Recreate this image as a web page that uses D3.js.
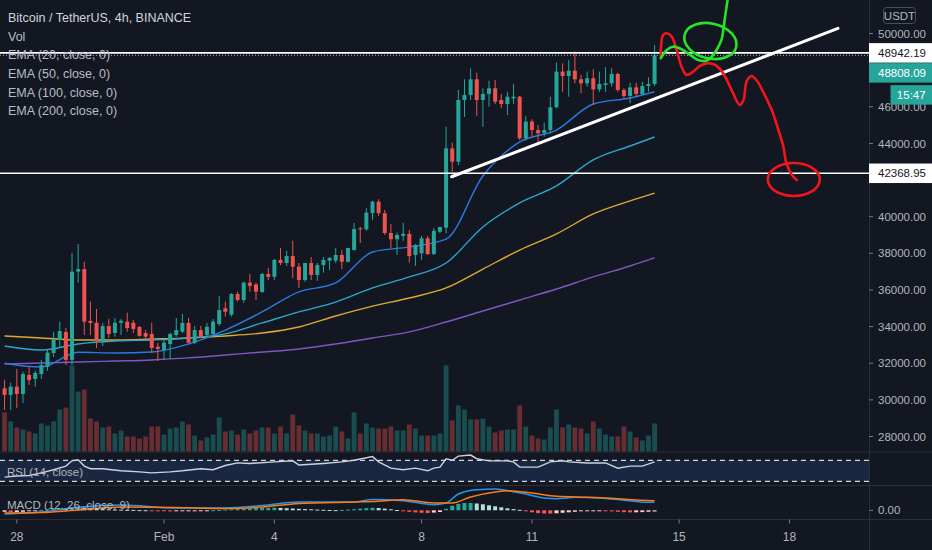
<!DOCTYPE html>
<html>
<head>
<meta charset="utf-8">
<script src="https://cdn.jsdelivr.net/npm/d3@7"></script>
<style>
html,body{margin:0;padding:0;background:#131722;}
svg{display:block;font-family:"Liberation Sans",Arial,sans-serif;}
</style>
</head>
<body>
<svg id="chart" width="932" height="550"></svg>
<script>
// ---- data (BTCUSDT 4h, first bar 27 Jan 16:00 UTC) ----
const barStart = '2021-01-27T16:00:00Z';

const opens = [30630,30270,30720,30320,31360,31140,31410,31810,32560,33270,
33700,32180,37000,37140,34310,34210,33270,34030,33650,34210,
34270,34210,33980,33650,33600,32900,32720,33050,33540,33720,
34200,33120,33810,33540,33600,34140,35000,34650,35780,35450,
36400,36300,35890,36870,36720,37640,37470,37850,37270,36540,
37470,36820,37360,37600,37600,37910,37540,38180,39370,39310,
40200,40820,40190,39110,38770,38950,39060,37910,38000,38820,
37960,39180,39400,43730,43000,46370,46640,47500,46370,46700,
47010,46370,46150,46460,46550,44280,45190,44730,44550,44730,
45970,47920,47680,47970,47500,47280,47560,46950,47190,47280,
47790,46920,46590,47060,46700,47130,47240];

const highs = [31090,30940,31690,31540,31810,31590,32180,32720,33720,34270,
33920,38020,38510,37540,35360,34960,34200,34420,34470,34420,
34760,34360,34030,33810,34210,33110,33270,33670,34470,34690,
34470,34030,34030,34200,34420,35670,35360,35830,35910,36450,
36870,36400,36930,37200,37690,38290,38140,38690,37470,37480,
37800,37470,37800,37800,38290,38180,38300,39660,39450,40470,
40870,40950,40370,39600,39130,39670,39270,38510,38950,38950,
39380,39440,44910,44040,46920,47500,48100,47860,47010,47420,
47460,46700,46820,47240,46590,45500,45320,45010,45130,46550,
48410,48370,48550,49010,47740,47920,48050,47920,48160,48100,
47860,47010,47310,47310,47370,47610,49370];

const lows = [29450,29450,29560,29830,30810,30720,31140,31590,32340,32900,
31900,31900,36400,33540,33540,32830,32940,33380,33450,33540,
33720,33650,33450,33270,32560,32120,32180,32230,33450,33650,
33100,33050,33380,33450,33490,34030,34540,34540,35360,35300,
35910,35450,35830,36540,36540,37360,37310,36650,36110,36450,
36540,36500,36940,37090,37470,37140,37500,38140,38560,39230,
39820,40040,39000,38290,37910,38690,37490,37310,37640,37910,
37910,39100,39090,42460,42820,45440,46370,45500,44910,46000,
46150,45920,45550,46150,44190,44150,44370,44090,44370,44550,
45920,46820,46550,47280,46740,47100,46100,46820,46820,47100,
46820,46460,46190,46590,46640,46820,47130];

const closes = [30270,30720,30320,31410,31090,31470,31900,32580,33320,33760,
32180,37000,37140,34270,34200,33270,34030,33600,34210,34320,
33920,33870,33490,33450,32830,32780,33120,33600,33810,34200,
33120,33810,33450,33990,34270,34900,34810,35780,35450,36400,
36220,35910,36870,36720,37640,37470,37850,37270,36540,37470,
36820,37360,37640,37750,37910,37540,38290,39330,39310,40220,
40820,40190,39110,38770,39000,39060,37850,38450,38820,37960,
39230,39440,43730,43000,46370,46640,47500,46370,46700,47010,
46280,46150,46550,46550,44280,45190,44730,44550,44730,45970,
47920,47680,47970,47500,47280,47560,46950,47240,47280,47790,
46920,46590,47060,46700,47130,47240,48808.09];

const volumes = [9750,7500,6000,5500,5000,4500,7000,6500,7500,10500,
11000,21500,15000,15500,8250,7500,6000,6250,4500,5250,
3750,3750,3250,3750,6250,6250,4250,5750,6000,7500,
6750,4000,2750,3500,4250,8500,5000,5250,4250,5500,
4500,5250,6000,6000,4500,6250,4500,9250,6500,5250,
4500,4500,3750,4000,6250,5000,3250,9750,4500,7000,
6000,5750,5750,6250,5250,5250,6750,5750,4000,4000,
4000,4500,21500,7750,11500,10500,8000,8000,8250,6250,
4750,5250,5500,5500,11500,6250,4000,3250,3000,6000,
10500,6000,6750,6000,5750,4500,7500,5750,4250,3750,
3750,6250,5000,3500,2750,4000,7000];

// moving averages, read once a day (bar index)
const emaIdx = [0,6,12,18,24,30,36,42,48,54,60,66,72,78,84,90,96,102,106];
const ema20  = [32000,31790,32600,32560,32610,33050,33810,34800,35890,36380,38070,38350,38780,42220,44080,44730,46150,46480,46820];
const ema50  = [32940,32720,33050,33210,33270,33380,33600,34200,34800,35340,36110,36710,37470,39440,40750,41680,43100,43860,44350];
const ema100 = [33490,33380,33270,33270,33320,33380,33490,33650,33980,34580,35120,35560,36110,37140,38180,39060,40150,40860,41290];
const ema200 = [31960,32010,32070,32120,32180,32290,32450,32610,32780,33050,33380,33710,34250,34850,35450,36050,36710,37310,37750];

// RSI (14)
const rsiIdx = [0,2,4,6,8,10,11,12,13,14,16,19,22,24,27,29,32,34,36,38,40,44,47,48,52,55,57,60,61,63,65,67,69,70,71,72,73,74,76,77,79,82,83,84,87,89,91,92,95,98,100,102,104,106];
const rsiVal = [38,40,41,46,52,59,69,71,59,54,54,50,48,46,48,50,54,52,60,65,64,67,69,61,64,67,70,77,67,55,52,55,50,55,57,73,70,78,80,73,69,69,67,57,57,67,69,67,65,65,55,59,59,67];

// MACD (12, 26, 9)
const macdIdx = [0,6,12,19,28,36,42,48,57,60,65,70,72,74,77,80,82,85,88,90,93,97,101,105,106];
const macdVal = [-370,-170,300,530,230,230,480,830,830,1080,960,560,730,1630,2060,2130,1960,1630,1230,1160,1300,1230,1000,800,830];
const sigIdx = [0,6,12,19,28,36,42,48,57,60,65,70,73,76,80,82,86,90,95,100,104,106];
const sigVal = [-270,-220,30,330,280,180,330,680,830,880,1060,730,730,1330,1830,1960,1730,1400,1300,1160,1000,960];
const macdHist = [-150,-200,-180,-150,-100,-50,50,100,150,180,150,
300,350,280,200,150,120,100,80,60,50,40,20,10,
-40,-80,-100,-110,-100,-90,-70,-50,-40,-20,10,40,70,100,
140,180,200,220,240,250,260,240,210,180,150,120,
100,70,50,30,20,40,70,110,170,220,250,230,170,100,
30,-60,-150,-210,-250,-270,-230,-170,
150,450,650,730,730,680,600,500,400,300,200,120,50,
-80,-200,-280,-320,-330,-300,-250,-200,-150,-100,-60,-40,-30,-70,-110,-150,-190,-210,-200,-180,-150,-120];

// axes
const timeTicks  = ['2021-01-28','2021-02-01','2021-02-04','2021-02-08','2021-02-11','2021-02-15','2021-02-18'];
const timeLabels = ['28','Feb','4','8','11','15','18'];
const priceTicks = [28000,30000,32000,34000,36000,38000,40000,44000,46000,50000];

// drawings
const levels = [48942.19, 42368.95];
const lastPrice = 48808.09;
const countdown = '15:47';
const trendLine = [[72.9,42180],[135.9,50280]];
const redPath = [[107.0,48770],[107.4,49920],[108.0,50010],[108.8,49830],[109.6,49100],[110.4,48190],[111.2,47740],[112.3,47920],[113.4,48230],[114.5,48370],[115.9,48280],[117.0,47920],[117.8,47460],[118.8,46740],[119.9,46100],[120.5,46370],[121.0,47370],[121.8,47680],[122.6,47460],[123.7,46820],[125.1,45820],[126.2,44730],[127.0,43820],[127.5,42910],[128.4,42280],[129.2,42000]];
const redCircle = {idx:128.7, price:42030, rIdx:4.24, rPrice:900};
const greenPath = [[107.0,48650],[108.0,49100],[109.0,49280],[110.4,49140],[111.8,48830],[113.1,48550],[114.5,48520],[115.3,48730],[116.1,49100],[116.9,49650],[117.2,50190],[117.5,50920],[117.9,51830]];
const greenLoop = {idx:115.1, price:49590, rIdx:4.32, rPrice:955, angle:13};

const legend = ['Bitcoin / TetherUS, 4h, BINANCE','Vol','EMA (20, close, 0)','EMA (50, close, 0)','EMA (100, close, 0)','EMA (200, close, 0)'];

// ---- layout ----
const svg = d3.select('svg');
const width = +svg.attr('width');
const height = +svg.attr('height');
const axisX = 869;
const mainBottom = 452, rsiTop = 452, rsiBottom = 485.5, macdTop = 485.5, macdBottom = 519.5;

const UP = '#26a69a', DOWN = '#ef5350';
const hour4 = 4*3600e3;
const t0 = Date.parse(barStart);

const x = d3.scaleLinear().domain([0,128]).range([4.56,789.5]);
const y = d3.scaleLinear().domain([28000,50000]).range([436.5,33.5]);
const yVol = d3.scaleLinear().domain([0,d3.max(volumes)]).range([451.5,365.5]);
const yRsi = d3.scaleLinear().domain([30,70]).range([481.3,460.3]);
const yMacd = d3.scaleLinear().domain([-770,2430]).range([518,486]);

const bars = opens.map((o,i)=>({i, o, h:highs[i], l:lows[i], c:closes[i], v:volumes[i]}));

svg.append('rect').attr('width',width).attr('height',height).attr('fill','#131722');

const defs = svg.append('defs');
defs.append('clipPath').attr('id','clipMain').append('rect').attr('x',0).attr('y',0).attr('width',axisX).attr('height',mainBottom);
defs.append('clipPath').attr('id','clipRsi').append('rect').attr('x',0).attr('y',rsiTop).attr('width',axisX).attr('height',rsiBottom-rsiTop);
defs.append('clipPath').attr('id','clipMacd').append('rect').attr('x',0).attr('y',macdTop).attr('width',axisX).attr('height',macdBottom-macdTop);

// ---- main pane ----
const mainG = svg.append('g').attr('clip-path','url(#clipMain)');

// volume
mainG.append('g').selectAll('rect').data(bars).enter().append('rect')
    .attr('x',d=>x(d.i)-2.4).attr('width',4.8)
    .attr('y',d=>yVol(d.v)).attr('height',d=>yVol(0)-yVol(d.v))
    .attr('fill',d=>d.c>=d.o ? UP : DOWN).attr('opacity',0.38);

// moving averages
const emaLine = d3.line().x(d=>x(d[0])).y(d=>y(d[1])).curve(d3.curveMonotoneX);
[[ema200,'#7e57c2'],[ema100,'#e0a82e'],[ema50,'#2aa9c9'],[ema20,'#2979e0']].forEach(([arr,col])=>{
    mainG.append('path').datum(emaIdx.map((k,j)=>[k,arr[j]]))
        .attr('d',emaLine).attr('fill','none').attr('stroke',col).attr('stroke-width',1.4);
});

// candles
const candleG = mainG.append('g');
candleG.selectAll('line').data(bars).enter().append('line')
    .attr('x1',d=>x(d.i)).attr('x2',d=>x(d.i))
    .attr('y1',d=>y(d.h)).attr('y2',d=>y(d.l))
    .attr('stroke',d=>d.c>=d.o ? UP : DOWN).attr('stroke-width',1);
candleG.selectAll('rect').data(bars).enter().append('rect')
    .attr('x',d=>x(d.i)-2).attr('width',4)
    .attr('y',d=>y(Math.max(d.o,d.c)))
    .attr('height',d=>Math.max(1,Math.abs(y(d.o)-y(d.c))))
    .attr('fill',d=>d.c>=d.o ? UP : DOWN);

// legend text
svg.append('g').selectAll('text').data(legend).enter().append('text')
    .attr('x',8).attr('y',(d,i)=> i==0 ? 21.5 : 40.7 + (i-1)*18.6)
    .attr('font-size',12.5).attr('fill',(d,i)=> i==0 ? '#d1d4dc' : '#b9bcc5')
    .text(d=>d);

// horizontal levels + last price line
mainG.append('line').attr('x1',0).attr('x2',axisX).attr('y1',y(lastPrice)).attr('y2',y(lastPrice))
    .attr('stroke','#a3a6af').attr('stroke-width',1).attr('stroke-dasharray','1,2');
mainG.selectAll('.lvl').data(levels).enter().append('line').attr('class','lvl')
    .attr('x1',0).attr('x2',axisX).attr('y1',d=>y(d)).attr('y2',d=>y(d))
    .attr('stroke','#ffffff').attr('stroke-width',1.6);

// trend line
mainG.append('line')
    .attr('x1',x(trendLine[0][0])).attr('y1',y(trendLine[0][1]))
    .attr('x2',x(trendLine[1][0])).attr('y2',y(trendLine[1][1]))
    .attr('stroke','#ffffff').attr('stroke-width',3).attr('stroke-linecap','round');

// hand drawn paths
const freeLine = d3.line().x(d=>x(d[0])).y(d=>y(d[1])).curve(d3.curveCatmullRom);
mainG.append('path').datum(redPath).attr('d',freeLine).attr('fill','none')
    .attr('stroke','#f2161c').attr('stroke-width',2.6).attr('stroke-linecap','round').attr('stroke-linejoin','round');
mainG.append('ellipse')
    .attr('cx',x(redCircle.idx)).attr('cy',y(redCircle.price))
    .attr('rx',x(redCircle.idx+redCircle.rIdx)-x(redCircle.idx))
    .attr('ry',y(redCircle.price-redCircle.rPrice)-y(redCircle.price))
    .attr('fill','none').attr('stroke','#f2161c').attr('stroke-width',2.6);
mainG.append('path').datum(greenPath).attr('d',freeLine).attr('fill','none')
    .attr('stroke','#27e327').attr('stroke-width',2.6).attr('stroke-linecap','round').attr('stroke-linejoin','round');
mainG.append('ellipse')
    .attr('cx',0).attr('cy',0)
    .attr('rx',x(greenLoop.idx+greenLoop.rIdx)-x(greenLoop.idx))
    .attr('ry',y(greenLoop.price-greenLoop.rPrice)-y(greenLoop.price))
    .attr('transform',`translate(${x(greenLoop.idx)},${y(greenLoop.price)}) rotate(${greenLoop.angle})`)
    .attr('fill','none').attr('stroke','#27e327').attr('stroke-width',2.6);

// ---- RSI pane ----
const rsiG = svg.append('g').attr('clip-path','url(#clipRsi)');
rsiG.append('rect').attr('x',0).attr('width',axisX)
    .attr('y',yRsi(70)).attr('height',yRsi(30)-yRsi(70)).attr('fill','#1a2740');
rsiG.selectAll('.band').data([70,30]).enter().append('line')
    .attr('x1',0).attr('x2',axisX).attr('y1',d=>yRsi(d)).attr('y2',d=>yRsi(d))
    .attr('stroke','#d1d4dc').attr('stroke-width',1.3).attr('stroke-dasharray','5,4');
rsiG.append('path').datum(rsiIdx.map((k,j)=>[k,rsiVal[j]]))
    .attr('d',d3.line().x(d=>x(d[0])).y(d=>yRsi(d[1])))
    .attr('fill','none').attr('stroke','#cdd2dc').attr('stroke-width',1.4);
svg.append('text').attr('x',7).attr('y',475.5).attr('font-size',11.5).attr('fill','#b2b5be').text('RSI (14, close)');

// ---- MACD pane ----
const macdG = svg.append('g').attr('clip-path','url(#clipMacd)');
macdG.selectAll('rect').data(macdHist).enter().append('rect')
    .attr('x',(d,i)=>x(i)-2).attr('width',4)
    .attr('y',d=>yMacd(Math.max(0,d))).attr('height',d=>Math.max(1,Math.abs(yMacd(d)-yMacd(0))))
    .attr('fill',(d,i)=>{
        const p = i>0 ? macdHist[i-1] : d;
        if(d>=0) return d>=p ? '#26a69a' : '#b2dfdb';
        return d<p ? '#ff5252' : '#ffcdd2';
    });
const macdLine = d3.line().x(d=>x(d[0])).y(d=>yMacd(d[1])).curve(d3.curveMonotoneX);
macdG.append('path').datum(macdIdx.map((k,j)=>[k,macdVal[j]]))
    .attr('d',macdLine).attr('fill','none').attr('stroke','#2196f3').attr('stroke-width',1.5);
macdG.append('path').datum(sigIdx.map((k,j)=>[k,sigVal[j]]))
    .attr('d',macdLine).attr('fill','none').attr('stroke','#ff7a14').attr('stroke-width',1.5);
svg.append('text').attr('x',7).attr('y',508.5).attr('font-size',11.5).attr('fill','#b2b5be').text('MACD (12, 26, close, 9)');

// ---- separators ----
const sep = '#2a2e39';
[mainBottom,rsiBottom,macdBottom].forEach(v=>{
    svg.append('line').attr('x1',0).attr('x2',width).attr('y1',v).attr('y2',v).attr('stroke',sep).attr('stroke-width',1);
});
svg.append('line').attr('x1',axisX+0.5).attr('x2',axisX+0.5).attr('y1',0).attr('y2',height).attr('stroke',sep);

// ---- time axis ----
const tickIdx = timeTicks.map(t=>(Date.parse(t+'T00:00:00Z')-t0)/hour4);
const timeG = svg.append('g');
timeG.selectAll('line').data(tickIdx).enter().append('line')
    .attr('x1',d=>x(d)).attr('x2',d=>x(d)).attr('y1',macdBottom).attr('y2',macdBottom+4)
    .attr('stroke','#787b86');
timeG.selectAll('text').data(tickIdx).enter().append('text')
    .attr('x',d=>x(d)).attr('y',541).attr('text-anchor','middle')
    .attr('font-size',12).attr('fill','#b2b5be')
    .text((d,i)=>timeLabels[i]);

// ---- price axis ----
const axisG = svg.append('g');
axisG.selectAll('line').data(priceTicks).enter().append('line')
    .attr('x1',axisX).attr('x2',axisX+4).attr('y1',d=>y(d)).attr('y2',d=>y(d)).attr('stroke','#787b86');
axisG.selectAll('text').data(priceTicks).enter().append('text')
    .attr('x',878).attr('y',d=>y(d)).attr('dy','0.36em')
    .attr('font-size',11.5).attr('fill','#b2b5be')
    .text(d=>d3.format('.2f')(d));
svg.append('line').attr('x1',axisX).attr('x2',axisX+4).attr('y1',yMacd(0)).attr('y2',yMacd(0)).attr('stroke','#787b86');
svg.append('text').attr('x',878).attr('y',yMacd(0)).attr('dy','0.36em')
    .attr('font-size',11.5).attr('fill','#b2b5be').text('0.00');

// currency box
svg.append('rect').attr('x',883.5).attr('y',7.5).attr('width',32).attr('height',16).attr('rx',3)
    .attr('fill','none').attr('stroke','#4a4e59');
svg.append('text').attr('x',899.5).attr('y',15.5).attr('dy','0.36em').attr('text-anchor','middle')
    .attr('font-size',11.5).attr('fill','#b2b5be').text('USDT');

// price labels for levels, last price, countdown
const tagH = 19.5;
function tag(yc, txt, bg, fg, x0){
    svg.append('rect').attr('x',x0).attr('y',yc-tagH/2).attr('width',width-x0).attr('height',tagH).attr('fill',bg);
    svg.append('text').attr('x',x0===axisX ? 878 : (x0+width)/2).attr('y',yc).attr('dy','0.36em')
        .attr('text-anchor',x0===axisX ? 'start' : 'middle')
        .attr('font-size',11.5).attr('fill',fg).text(txt);
}
tag(y(levels[0]), d3.format('.2f')(levels[0]), '#ffffff', '#131722', axisX);
tag(y(levels[0])+tagH+0.5, d3.format('.2f')(lastPrice), UP, '#ffffff', axisX);
tag(y(levels[0])+2*tagH+3, countdown, UP, '#ffffff', 890.5);
tag(y(levels[1]), d3.format('.2f')(levels[1]), '#ffffff', '#131722', axisX);
</script>
</body>
</html>
